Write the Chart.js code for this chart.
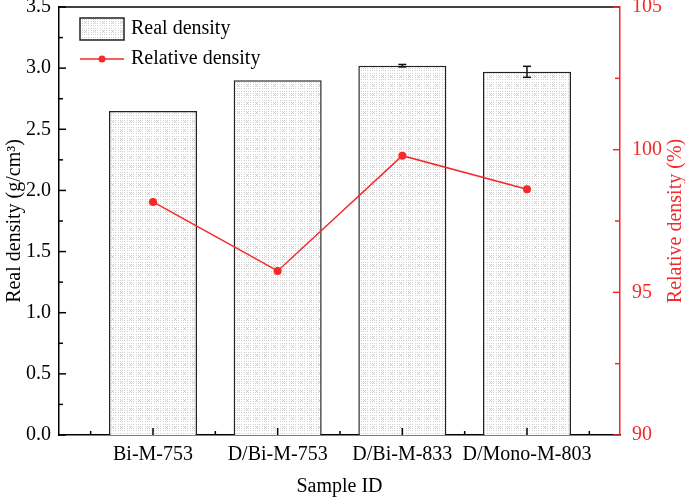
<!DOCTYPE html>
<html>
<head>
<meta charset="utf-8">
<script src="https://cdn.jsdelivr.net/npm/chart.js@4.4.0/dist/chart.umd.min.js"></script>
<style>
  html, body { margin: 0; padding: 0; background: #fff; }
  #wrap { width: 685px; height: 497px; }
</style>
</head>
<body>
<div id="wrap"><canvas id="densityChart"></canvas></div>
<script>
// data
const samples = ['Bi-M-753', 'D/Bi-M-753', 'D/Bi-M-833', 'D/Mono-M-803'];
const realDensity = [2.65, 2.90, 3.02, 2.97];
const realDensityErr = [0, 0, 0.01, 0.045];
const relativeDensity = [98.17, 95.75, 99.79, 98.61];
const leftTicks = [0.0, 0.5, 1.0, 1.5, 2.0, 2.5, 3.0, 3.5];
const rightTicks = [90, 95, 100, 105];

const FONT = "'Liberation Serif', 'Times New Roman', serif";
const RED = '#f42a2a';

// dotted grey fill used by the bars
const makePattern = () => {
  const c = document.createElement('canvas');
  c.width = 9; c.height = 9;
  const g = c.getContext('2d');
  g.fillStyle = '#fff';
  g.fillRect(0, 0, 9, 9);
  g.fillStyle = '#d2d2d2';
  for (let i = 1; i < 9; i += 2) {
    for (let j = 1; j < 9; j += 2) g.fillRect(i, j, 1, 1);
  }
  g.fillStyle = '#bbb';
  g.fillRect(4, 4, 1, 1);
  return g.createPattern(c, 'repeat');
};
const dots = makePattern();

const line = (ctx, x1, y1, x2, y2) => {
  ctx.beginPath();
  ctx.moveTo(x1, y1);
  ctx.lineTo(x2, y2);
  ctx.stroke();
};

// fixed box sizes so the plot area sits where the original one does
const fitBox = (w, h) => (s) => {
  if (w != null) s.width = w;
  if (h != null) s.height = h;
  s.paddingTop = 0; s.paddingBottom = 0;
  s.paddingLeft = 0; s.paddingRight = 0;
};

// inward ticks, error bars, frame top, right title and legend (Origin style)
const decor = {
  id: 'decor',
  afterDatasetDraw(chart, args) {
    if (args.index !== 1) return;
    const ctx = chart.ctx, yS = chart.scales.y, xS = chart.scales.x;
    ctx.save();
    ctx.strokeStyle = '#111';
    ctx.lineWidth = 1.5;
    realDensityErr.forEach((e, i) => {
      if (!e) return;
      const x = xS.getPixelForValue(i + 1);
      const y1 = yS.getPixelForValue(realDensity[i] + e);
      const y2 = yS.getPixelForValue(realDensity[i] - e);
      line(ctx, x, y1, x, y2);
      line(ctx, x - 4, y1, x + 4, y1);
      line(ctx, x - 4, y2, x + 4, y2);
    });
    ctx.restore();
  },
  afterDraw(chart) {
    const ctx = chart.ctx;
    const { left, right, top, bottom } = chart.chartArea;
    const yS = chart.scales.y, y2 = chart.scales.y2, xS = chart.scales.x;
    ctx.save();
    ctx.lineWidth = 1.5;
    ctx.strokeStyle = '#000';
    line(ctx, left, top, right, top);

    // left axis
    leftTicks.forEach((v, i) => {
      const p = yS.getPixelForValue(v);
      line(ctx, left, p, left + 7, p);
      if (i < leftTicks.length - 1) {
        const m = yS.getPixelForValue((v + leftTicks[i + 1]) / 2);
        line(ctx, left, m, left + 4, m);
      }
    });
    // bottom axis
    samples.forEach((s, i) => {
      const p = xS.getPixelForValue(i + 1);
      line(ctx, p, bottom, p, bottom - 7);
    });
    for (let i = 0; i <= samples.length; i++) {
      const m = xS.getPixelForValue(i + 0.5);
      if (m > left + 2 && m < right - 2) line(ctx, m, bottom, m, bottom - 4);
    }
    // right axis
    ctx.strokeStyle = RED;
    rightTicks.forEach((v, i) => {
      const p = y2.getPixelForValue(v);
      line(ctx, right, p, right - 7, p);
      if (i < rightTicks.length - 1) {
        const m = y2.getPixelForValue((v + rightTicks[i + 1]) / 2);
        line(ctx, right, m, right - 5, m);
      }
    });

    // right axis title, reading bottom to top
    ctx.save();
    ctx.translate(676, (top + bottom) / 2);
    ctx.rotate(-Math.PI / 2);
    ctx.fillStyle = RED;
    ctx.font = '20px ' + FONT;
    ctx.textAlign = 'center';
    ctx.textBaseline = 'middle';
    ctx.fillText('Relative density (%)', 0, 0);
    ctx.restore();

    // legend
    const lx = left + 21, ly = top + 11;
    ctx.fillStyle = dots;
    ctx.fillRect(lx, ly, 44, 22);
    ctx.strokeStyle = '#222';
    ctx.lineWidth = 1.5;
    ctx.strokeRect(lx, ly, 44, 22);
    ctx.strokeStyle = RED;
    line(ctx, lx, ly + 41, lx + 44, ly + 41);
    ctx.fillStyle = RED;
    ctx.beginPath();
    ctx.arc(lx + 22, ly + 41, 3.5, 0, Math.PI * 2);
    ctx.fill();
    ctx.fillStyle = '#000';
    ctx.font = '20px ' + FONT;
    ctx.textBaseline = 'middle';
    ctx.fillText('Real density', lx + 51, ly + 11);
    ctx.fillText('Relative density', lx + 51, ly + 41);
    ctx.restore();
  }
};

const ctx = document.getElementById('densityChart');

new Chart(ctx, {
  data: {
    datasets: [
      {
        type: 'line',
        label: 'Relative density',
        data: relativeDensity.map((v, i) => ({ x: i + 1, y: v })),
        yAxisID: 'y2',
        borderColor: RED,
        borderWidth: 1.5,
        pointRadius: 4,
        pointBackgroundColor: RED,
        pointBorderColor: RED,
        pointBorderWidth: 0,
        tension: 0,
        order: 0
      },
      {
        type: 'bar',
        label: 'Real density',
        data: realDensity.map((v, i) => ({ x: i + 1, y: v })),
        yAxisID: 'y',
        backgroundColor: dots,
        borderColor: '#222',
        borderWidth: 1.5,
        borderSkipped: 'bottom',
        categoryPercentage: 1,
        barPercentage: 0.706,
        order: 1
      }
    ]
  },
  options: {
    responsive: true,
    maintainAspectRatio: false,
    animation: false,
    layout: { padding: { top: 7, left: 0, right: 0, bottom: 0 } },
    plugins: {
      legend: { display: false },
      tooltip: { enabled: false }
    },
    scales: {
      x: {
        type: 'linear',
        offset: false,
        min: 0.246,
        max: 4.746,
        afterFit: fitBox(null, 62),
        afterBuildTicks: (s) => { s.ticks = samples.map((c, i) => ({ value: i + 1 })); },
        grid: { display: false, drawTicks: false, offset: false },
        border: { display: true, color: '#000', width: 1.5 },
        ticks: {
          padding: 8,
          color: '#000',
          font: { family: FONT, size: 20 },
          maxRotation: 0,
          autoSkip: false,
          callback: (v) => samples[Math.round(v) - 1] || ''
        },
        title: {
          display: true,
          text: 'Sample ID',
          color: '#000',
          font: { family: FONT, size: 20, lineHeight: 1 },
          padding: 0
        }
      },
      y: {
        position: 'left',
        min: 0,
        max: 3.5,
        afterFit: fitBox(59, null),
        afterBuildTicks: (s) => { s.ticks = leftTicks.map(v => ({ value: v })); },
        grid: { display: false, drawTicks: false },
        border: { display: true, color: '#000', width: 1.5 },
        ticks: {
          padding: 8,
          color: '#000',
          font: { family: FONT, size: 20 },
          callback: (v) => v.toFixed(1)
        },
        title: {
          display: true,
          text: 'Real density (g/cm³)',
          color: '#000',
          font: { family: FONT, size: 20, lineHeight: 1.2 },
          padding: { top: 3, bottom: 0 }
        }
      },
      y2: {
        position: 'right',
        min: 90,
        max: 105,
        afterFit: fitBox(65, null),
        afterBuildTicks: (s) => { s.ticks = rightTicks.map(v => ({ value: v })); },
        grid: { display: false, drawTicks: false },
        border: { display: true, color: RED, width: 1.5 },
        ticks: {
          padding: 12,
          color: RED,
          font: { family: FONT, size: 20 }
        }
      }
    }
  },
  plugins: [decor]
});
</script>
</body>
</html>
